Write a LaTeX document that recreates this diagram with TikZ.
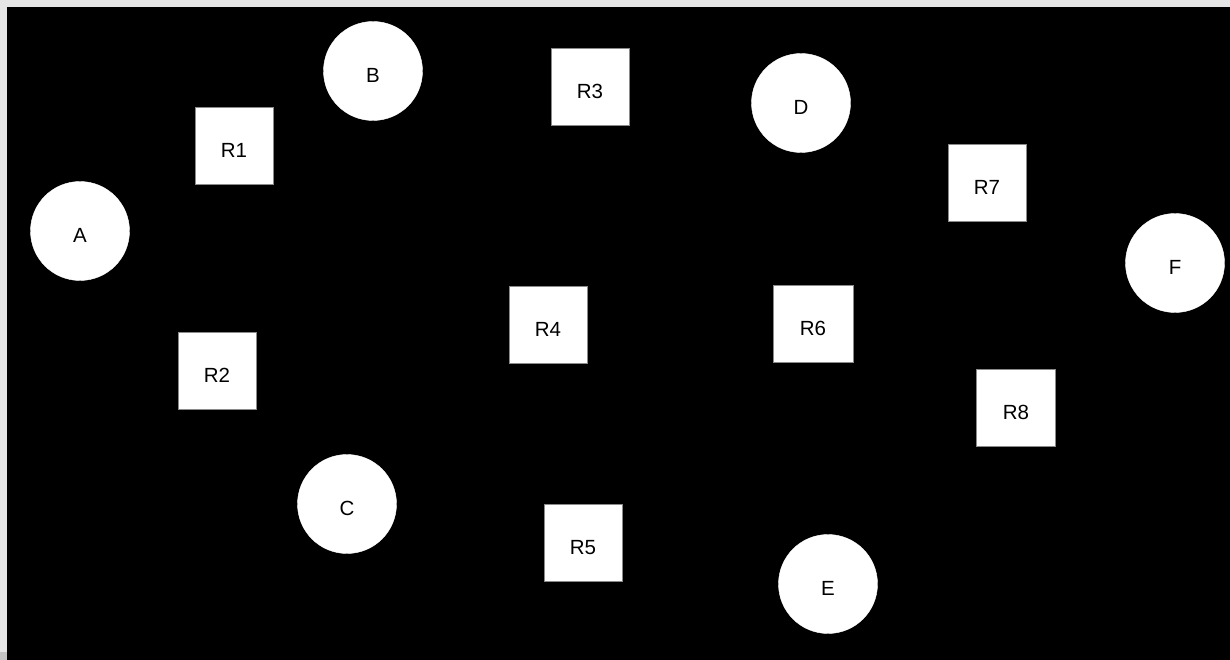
\documentclass[tikz,border=0pt]{standalone}
\usepackage{fontspec}
\setmainfont{Liberation Sans}
\definecolor{frame}{HTML}{E6E6E6}
\definecolor{framedark}{HTML}{C4C4C4}
\definecolor{edge}{HTML}{8A8A8A}
\tikzset{
  label text/.style={font=\fontsize{20.5}{20.5}\selectfont, text height=23.5pt, text depth=0pt},
  host/.style={circle, fill=white, draw=white, minimum size=99pt, inner sep=0pt, label text},
  router/.style={rectangle, fill=white, draw=edge, line width=0.8pt, minimum width=78pt, minimum height=77pt, inner sep=0pt, label text},
}
\begin{document}
\begin{tikzpicture}[x=1pt, y=-1pt]
\useasboundingbox (0,0) rectangle (1230,660);
% window frame and dark canvas
\fill[frame] (0,0) rectangle (1230,660);
\fill[framedark] (0,652) rectangle (7,660);
\fill[black] (7,7) rectangle (1230,660);

% hosts
\node[host] (A) at (80,231) {A};
\node[host] (B) at (373,71) {B};
\node[host] (C) at (347,504) {C};
\node[host] (D) at (801,103) {D};
\node[host] (E) at (828,584) {E};
\node[host] (F) at (1175,263) {F};

% routers
\node[router] (R1) at (234,146) {R1};
\node[router] (R2) at (217,371) {R2};
\node[router] (R3) at (590,87) {R3};
\node[router] (R4) at (548,325) {R4};
\node[router] (R5) at (583,543) {R5};
\node[router, minimum width=80pt] (R6) at (813,324) {R6};
\node[router] (R7) at (987,183) {R7};
\node[router, minimum width=79pt] (R8) at (1016,408) {R8};
\end{tikzpicture}
\end{document}
